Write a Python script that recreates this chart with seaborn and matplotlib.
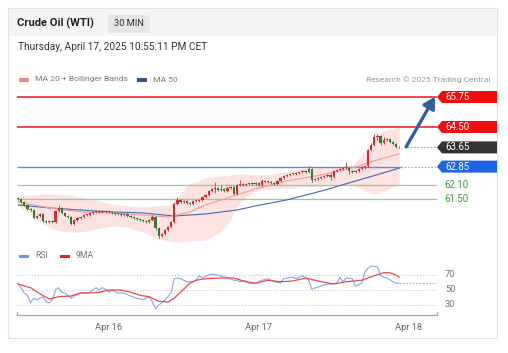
import numpy as np
import pandas as pd
import matplotlib
matplotlib.use("Agg")
import matplotlib.pyplot as plt
import matplotlib.transforms as mtrans
from matplotlib.patches import Polygon, Rectangle
import seaborn as sns

# ---------------- data ----------------
closes = [61.50, 61.38, 61.25, 61.08, 61.04, 60.71, 60.79, 60.88, 60.58, 60.54,
          60.58, 60.54, 61.00, 61.13, 60.92, 60.79, 60.75, 60.46, 60.63, 60.71,
          60.75, 60.83, 60.83, 60.92, 60.96, 60.96, 61.00, 60.96, 61.00, 60.96,
          60.92, 60.88, 60.88, 60.83, 60.88, 60.79, 60.75, 60.71, 60.67, 60.63,
          60.58, 60.54, 60.63, 60.75, 60.29, 59.96, 60.04, 60.21, 60.33, 60.54,
          61.29, 61.46, 61.38, 61.42, 61.33, 61.29, 61.42, 61.42, 61.46, 61.58,
          61.67, 61.83, 61.92, 61.96, 61.88, 61.92, 61.83, 61.96, 62.00, 61.71,
          62.08, 62.13, 62.08, 62.13, 62.17, 62.13, 62.17, 62.08, 62.25, 62.21,
          62.21, 62.17, 62.13, 62.25, 62.38, 62.46, 62.50, 62.54, 62.54, 62.58,
          62.63, 62.67, 62.63, 62.75, 62.29, 62.33, 62.38, 62.42, 62.46, 62.50,
          62.42, 62.67, 62.71, 62.75, 62.79, 62.79, 62.67, 62.63, 62.67, 62.75,
          62.83, 62.88, 63.54, 63.75, 64.08, 64.13, 63.83, 63.96, 64.00, 63.88,
          63.79, 63.67, 63.65]
first_open = 61.55
high_extra = {0: 61.58, 12: 61.05, 13: 61.25, 43: 60.85, 50: 61.38, 51: 61.58,
              63: 62.20, 65: 62.10, 71: 62.30, 78: 62.35, 93: 62.88, 100: 62.60,
              105: 63.04, 113: 63.85, 114: 64.20, 115: 64.21, 117: 64.10}
low_extra = {17: 60.40, 44: 60.20, 45: 59.88, 63: 61.75, 69: 61.65, 84: 62.20,
             94: 62.20, 100: 62.30, 106: 62.55, 111: 62.75, 115: 63.95, 116: 63.75}

ma50_idx = [0, 10, 20, 30, 40, 50, 60, 70, 76, 86, 97, 107, 118, 122]
ma50_val = [61.25, 61.13, 61.04, 60.96, 60.92, 60.79, 60.875, 61.04, 61.21, 61.46,
            61.83, 62.21, 62.63, 62.79]

ma20_idx = [0, 10, 20, 30, 40, 48, 55, 60, 70, 76, 86, 97, 108, 116, 122]
ma20_val = [61.38, 61.13, 60.96, 60.92, 60.83, 60.75, 60.96, 61.25, 61.67, 61.92,
            62.25, 62.50, 62.83, 63.17, 63.38]

band_idx = [0, 4, 8, 12, 16, 20, 25, 30, 35, 40, 44, 48, 50, 52, 55, 60, 65, 68, 70,
            73, 77, 82, 87, 92, 97, 102, 107, 110, 112, 114, 116, 119, 122]
band_upper = [61.63, 61.67, 61.71, 61.71, 61.67, 61.58, 61.46, 61.29, 61.21, 61.17,
              61.21, 61.25, 61.33, 61.75, 62.13, 62.38, 62.46, 62.50, 62.54, 62.54,
              62.50, 62.54, 62.67, 62.79, 62.83, 62.83, 62.88, 63.33, 63.67, 64.04,
              64.29, 64.42, 64.50]
band_lower = [61.21, 60.875, 60.46, 60.21, 60.125, 60.125, 60.25, 60.375, 60.33, 60.125,
              59.875, 59.75, 59.71, 59.71, 59.75, 59.79, 60.125, 60.625, 61.17, 61.625,
              61.875, 61.92, 61.96, 62.00, 62.04, 62.08, 62.08, 61.92, 61.79, 61.71,
              61.75, 61.96, 62.125]

rsi_idx = [0, 2, 3, 4, 5, 6, 8, 9, 10, 11, 12, 13, 14, 15, 17, 18, 20, 22, 23, 24,
           25, 26, 27, 28, 29, 30, 32, 34, 36, 38, 40, 41, 42, 43, 44, 45, 46, 48, 49, 50,
           51, 52, 54, 56, 57, 58, 59, 61, 62, 64, 66, 67, 69, 70, 71, 73, 74, 76, 78, 80,
           82, 84, 85, 87, 88, 89, 91, 92, 93, 94, 96, 98, 100, 102, 103, 104, 105, 107, 108, 110,
           111, 112, 113, 115, 116, 117, 118, 120, 121, 122]
rsi_val = [59, 46, 43, 33, 39, 37, 41, 34, 33, 37, 50, 53, 47, 46, 39, 42, 46, 46, 47, 50,
           53, 50, 53, 51, 47, 50, 46, 46, 42, 39, 37, 39, 41, 34, 25, 30, 33, 41, 46, 65,
           66, 65, 61, 61, 63, 69, 66, 70, 71, 70, 67, 67, 63, 63, 61, 62, 59, 59, 63, 65,
           61, 59, 65, 67, 67, 65, 69, 67, 63, 51, 54, 57, 58, 59, 67, 61, 66, 65, 55, 59,
           74, 79, 82, 81, 70, 67, 66, 61, 59, 59]
ma9_idx = [0, 4, 7, 10, 13, 17, 20, 23, 26, 29, 33, 36, 39, 42, 45, 48, 50, 52, 55, 57,
           60, 65, 69, 73, 76, 80, 84, 88, 92, 97, 101, 105, 110, 114, 117, 119, 121, 122]
ma9_val = [58, 53, 45, 38, 41, 42, 46, 46, 47, 50, 50, 47, 43, 41, 35, 34, 39, 47, 59, 63,
           65, 66, 66, 61, 59, 63, 61, 62, 66, 61, 58, 61, 63, 69, 73, 73, 70, 67]

levels = [65.75, 64.50, 63.65, 62.85, 62.10, 61.50]
level_labels = ["65.75", "64.50", "63.65", "62.85", "62.10", "61.50"]
rsi_levels = [70, 50, 30]
tick_pos = [29, 77, 125]
tick_labels = ["Apr 16", "Apr 17", "Apr 18"]

# ---------------- style ----------------
sns.set_theme(style="white")
plt.rcParams['font.family'] = ['Roboto', 'DejaVu Sans']

RED_C = "#da2a2a"
GREEN_C = "#2e7d32"
W, H = 508, 353
fig = plt.figure(figsize=(W / 100, H / 100), dpi=100)
fig.patch.set_facecolor("white")


def fx(x):
    return x / W


def fy(y):
    return 1 - y / H


# card + header
fig.add_artist(Rectangle((fx(8), fy(338)), (497 - 8) / W, (338 - 8) / H,
                         transform=fig.transFigure, facecolor="white",
                         edgecolor="#e2e2e2", lw=0.8, zorder=0))
fig.add_artist(Rectangle((fx(8.5), fy(36)), (496.5 - 8.5) / W, (36 - 8.5) / H,
                         transform=fig.transFigure, facecolor="#f5f5f5",
                         edgecolor="none", zorder=0.5))
fig.add_artist(Rectangle((fx(108), fy(33)), 42 / W, 18 / H,
                         transform=fig.transFigure, facecolor="#e6e6e6",
                         edgecolor="none", zorder=0.6))
fig.text(fx(17), fy(23), "Crude Oil (WTI)", fontsize=8, fontweight="bold",
         color="#222", va="center")
fig.text(fx(114), fy(23), "30 MIN", fontsize=6.7, color="#333", va="center")
fig.text(fx(18), fy(47.5), "Thursday, April 17, 2025 10:55:11 PM CET", fontsize=7.3,
         color="#333", va="center")

# legend row
fig.add_artist(Rectangle((fx(19), fy(81.5)), 10 / W, 3 / H, transform=fig.transFigure,
                         facecolor="#f08a8a", edgecolor="none"))
fig.text(fx(35), fy(79.5), "MA 20 + Bollinger Bands", fontsize=6.1, color="#777", va="center")
fig.add_artist(Rectangle((fx(137), fy(81.5)), 10 / W, 3 / H, transform=fig.transFigure,
                         facecolor="#2b5797", edgecolor="none"))
fig.text(fx(153), fy(79.5), "MA 50", fontsize=6.1, color="#777", va="center")
fig.text(fx(490), fy(79.5), "Research \u00a9 2025 Trading Central", fontsize=6.0,
         color="#999", va="center", ha="right")

# ---------------- price panel ----------------
XMIN, XMAX = -0.32, 134.08
ax = fig.add_axes([fx(17), fy(245), 420 / W, (245 - 88) / H])
ax.set_xlim(XMIN, XMAX)
ax.set_ylim(59.583, 66.125)
ax.axis("off")

ax.fill_between(band_idx, band_lower, band_upper, color="#fde2e2", lw=0, zorder=1)

# level lines
ax.hlines([levels[0], levels[1]], XMIN, XMAX, color="#e8171b", lw=1.1, zorder=2)
ax.hlines([levels[4], levels[5]], XMIN, XMAX, color="#93cf8c", lw=0.9, zorder=2)
ax.hlines(levels[3], XMIN, 122.6, color="#5b8def", lw=1.0, zorder=2)
ax.hlines(levels[3], 122.6, XMAX, color="#8aa8e8", lw=0.8, linestyles=(0, (1.5, 1.5)), zorder=2)
ax.hlines(levels[2], 124.5, XMAX, color="#999999", lw=0.8, linestyles=(0, (1.5, 1.5)), zorder=2)

sns.lineplot(x=ma50_idx, y=ma50_val, ax=ax, color="#3f6cae", lw=0.8, zorder=3)
sns.lineplot(x=ma20_idx, y=ma20_val, ax=ax, color="#f29a9a", lw=0.8, zorder=3)

# candles
c = np.array(closes)
o = np.array([first_open] + closes[:-1])
idx = np.arange(len(c))
hi = np.maximum(o, c) + 0.03
lo = np.minimum(o, c) - 0.03
for k, v in high_extra.items():
    hi[k] = max(hi[k], v)
for k, v in low_extra.items():
    lo[k] = min(lo[k], v)
cols = np.where(c >= o, RED_C, GREEN_C)
ax.vlines(idx, lo, hi, colors=cols, lw=0.6, zorder=4)
body = np.maximum(np.abs(c - o), 0.025)
ax.bar(idx, body, bottom=np.minimum(o, c), width=0.72, color=cols, lw=0, zorder=5)

# arrow
ax.annotate("", xy=(133.4, 65.76), xytext=(124.2, 63.67),
            arrowprops=dict(arrowstyle="-|>,head_length=0.55,head_width=0.32",
                            lw=2.4, color="#2f5f9e", shrinkA=0, shrinkB=0),
            zorder=6, annotation_clip=False)

# level labels
btr = mtrans.blended_transform_factory(fig.transFigure, ax.transData)
hh = 6 / 24.0
box_cols = {0: "#f20d0d", 1: "#f20d0d", 2: "#333333", 3: "#1f63e6"}
for k, (lv, lab) in enumerate(zip(levels, level_labels)):
    if k in box_cols:
        pts = [(fx(437), lv), (fx(442), lv + hh), (fx(497), lv + hh),
               (fx(497), lv - hh), (fx(442), lv - hh)]
        fig.add_artist(Polygon(pts, closed=True, transform=btr,
                               facecolor=box_cols[k], edgecolor="none"))
        fig.text(fx(445), lv, lab, transform=btr, fontsize=6.9, color="white",
                 va="center", ha="left")
    else:
        fig.text(fx(444), lv, lab, transform=btr, fontsize=6.9, color="#3a9a3a",
                 va="center", ha="left")

# ---------------- RSI panel ----------------
ax2 = fig.add_axes([fx(17), fy(315), 420 / W, 53 / H])
ax2.set_xlim(XMIN, XMAX)
ax2.set_ylim(16.67, 87.3)
for s in ["top", "left", "right"]:
    ax2.spines[s].set_visible(False)
ax2.spines["bottom"].set_color("#aaaaaa")
ax2.spines["bottom"].set_linewidth(1.0)
ax2.set_yticks([])
ax2.set_xticks(tick_pos)
ax2.set_xticklabels(tick_labels, fontsize=6.7, color="#666")
ax2.tick_params(axis="x", length=0, pad=6)
ax2.hlines(rsi_levels, XMIN, XMAX, color="#bbbbbb", lw=0.7, linestyles=(0, (1, 2)))
ax2.plot([XMIN, XMIN], [16.67, 21], color="#aaaaaa", lw=1.0, clip_on=False)
ax2.plot([XMAX, XMAX], [16.67, 21], color="#aaaaaa", lw=1.0, clip_on=False)

sns.lineplot(x=rsi_idx, y=rsi_val, ax=ax2, color="#86a4ef", lw=0.8)
ax2.hlines(rsi_val[-1], rsi_idx[-1], XMAX, color="#9db5f3", lw=0.8, linestyles=(0, (1.5, 1.5)))
sns.lineplot(x=ma9_idx, y=ma9_val, ax=ax2, color="#f24848", lw=0.9)
ax2.set_xlabel("")
ax2.set_ylabel("")

rtr = mtrans.blended_transform_factory(fig.transFigure, ax2.transData)
for lv in rsi_levels:
    fig.text(fx(445), lv, str(lv), transform=rtr, fontsize=6.7, color="#777", va="center")

fig.add_artist(Rectangle((fx(19), fy(257.5)), 10 / W, 3 / H, transform=fig.transFigure,
                         facecolor="#6f94e8", edgecolor="none"))
fig.text(fx(35), fy(256), "RSI", fontsize=6.2, color="#777", va="center")
fig.add_artist(Rectangle((fx(60), fy(257.5)), 10 / W, 3 / H, transform=fig.transFigure,
                         facecolor="#f01e1e", edgecolor="none"))
fig.text(fx(76), fy(256), "9MA", fontsize=6.2, color="#777", va="center")

fig.savefig("out.png", dpi=100)
